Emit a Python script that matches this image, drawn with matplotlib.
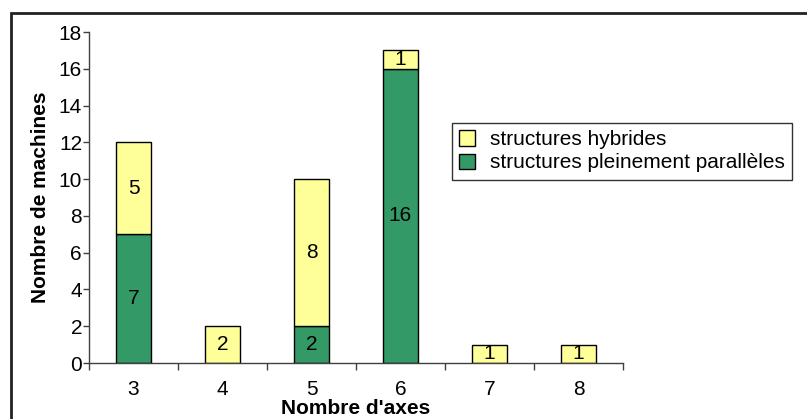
import matplotlib
matplotlib.use("Agg")
import matplotlib.pyplot as plt
from matplotlib.patches import Rectangle
import numpy as np

plt.rcParams['font.family'] = ['Liberation Sans', 'DejaVu Sans']

categories = ["3", "4", "5", "6", "7", "8"]
paralleles = [7, 0, 2, 16, 0, 0]
hybrides = [5, 2, 8, 1, 1, 1]
yticks = [0, 2, 4, 6, 8, 10, 12, 14, 16, 18]

yellow = "#FFFF99"
green = "#339966"
FS = 15

fig = plt.figure(figsize=(8.07, 4.19), dpi=100)
ax = fig.add_axes([89/807, 1-363/419, (623-89)/807, (363-32)/419])

x = np.arange(len(categories))
w = 0.4
b1 = ax.bar(x, paralleles, w, color=green, edgecolor="black", linewidth=1,
            label="structures pleinement parallèles")
b2 = ax.bar(x, hybrides, w, bottom=paralleles, color=yellow, edgecolor="black",
            linewidth=1, label="structures hybrides")

for i in range(len(categories)):
    if paralleles[i] > 0:
        ax.text(x[i], paralleles[i]/2, str(paralleles[i]), ha="center", va="center", fontsize=FS)
    if hybrides[i] > 0:
        ax.text(x[i], paralleles[i] + hybrides[i]/2, str(hybrides[i]), ha="center", va="center", fontsize=FS)

ax.set_xlim(-0.5, len(categories)-0.5)
ax.set_ylim(0, 18)
ax.set_yticks(yticks)
ax.set_yticklabels([str(v) for v in yticks], fontsize=FS)
ax.set_xticks(x)
ax.set_xticklabels(categories, fontsize=FS)
ax.set_xticks(np.arange(len(categories)+1) - 0.5, minor=True)
ax.tick_params(axis="x", which="major", length=0, pad=12)
ax.tick_params(axis="x", which="minor", length=5, width=1, color="#404040")
ax.tick_params(axis="y", length=4, width=1, color="#404040", pad=1)
for s in ["top", "right"]:
    ax.spines[s].set_visible(False)
for s in ["left", "bottom"]:
    ax.spines[s].set_color("#404040")
    ax.spines[s].set_linewidth(1)

ax.set_ylabel("Nombre de machines", fontsize=FS, fontweight="bold", labelpad=6)
ax.set_xlabel("Nombre d'axes", fontsize=FS, fontweight="bold", labelpad=0)

handles = [b2, b1]
leg = ax.legend(handles, [h.get_label() for h in handles], loc="upper left",
                bbox_to_anchor=(452/807, 1-123/419), bbox_transform=fig.transFigure,
                fontsize=FS, frameon=True, fancybox=False, edgecolor="black",
                handlelength=0.75, handleheight=0.75, handletextpad=0.7,
                borderpad=0.35, labelspacing=0.2, borderaxespad=0)
leg.get_frame().set_linewidth(1)

fig.patches.append(Rectangle((11/807, -0.5), 2, 1.5 - 13/419, transform=fig.transFigure,
                             fill=False, edgecolor="#222222", linewidth=2))

fig.savefig("out.png", dpi=100)
